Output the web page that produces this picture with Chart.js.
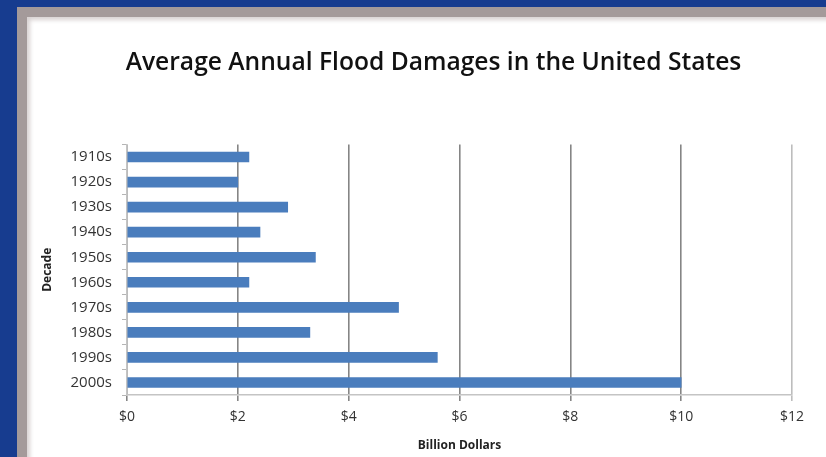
<!DOCTYPE html>
<html>
<head>
<meta charset="utf-8">
<script src="https://cdn.jsdelivr.net/npm/chart.js@4/dist/chart.umd.min.js"></script>
<style>
  html, body { margin: 0; padding: 0; }
  body { width: 826px; height: 457px; background: #173c8f; position: relative; overflow: hidden; }
  #panel { position: absolute; left: 17px; top: 7px; width: 830px; height: 446px;
           background: #ffffff; border-left: 10px solid #a49a9a; border-top: 10px solid #a49a9a;
           border-bottom: 2px solid #b9aeae;
           box-shadow: inset 3px 3px 4px #d8d2d2; }
  #wrap { position: absolute; left: 0; top: 0; width: 826px; height: 457px; }
</style>
</head>
<body>
<div id="panel"></div>
<div id="wrap"><canvas id="c" width="826" height="457"></canvas></div>
<script>
const chartTitle = "Average Annual Flood Damages in the United States";
const decades = ["1910s","1920s","1930s","1940s","1950s","1960s","1970s","1980s","1990s","2000s"];
const damages = [2.2, 2.0, 2.9, 2.4, 3.4, 2.2, 4.9, 3.3, 5.6, 10.0];
const xTickValues = [0, 2, 4, 6, 8, 10, 12];
const xAxisTitle = "Billion Dollars";
const yAxisTitle = "Decade";

const FONT = "'Open Sans', 'Liberation Sans', sans-serif";

const shiftTitle = {
  id: 'shiftTitle',
  afterLayout(chart) {
    if (chart.titleBlock) { chart.titleBlock.left += 35; }
  }
};

new Chart(document.getElementById('c'), {
  type: 'bar',
  data: {
    labels: decades,
    datasets: [{
      data: damages,
      backgroundColor: '#4a7dbd',
      borderWidth: 0,
      barThickness: 10
    }]
  },
  plugins: [shiftTitle],
  options: {
    indexAxis: 'y',
    responsive: false,
    animation: false,
    layout: { padding: { left: 40, right: 34, top: 0, bottom: 0 } },
    plugins: {
      legend: { display: false },
      tooltip: { enabled: false },
      title: {
        display: true,
        text: chartTitle,
        color: '#111111',
        font: { family: FONT, size: 24.6, weight: '600' },
        padding: { top: 48, bottom: 67 }
      }
    },
    scales: {
      x: {
        min: 0, max: 12,
        afterBuildTicks: (scale) => { scale.ticks = xTickValues.map(v => ({ value: v })); },
        afterFit: (scale) => { scale.height = 62; },
        ticks: {
          callback: (v) => '$' + v,
          color: '#333333',
          font: { family: FONT, size: 14 },
          padding: 8,
          maxRotation: 0
        },
        grid: {
          color: (ctx) => (ctx.index === xTickValues.length - 1 ? '#bdbdbd' : '#858585'),
          lineWidth: 1.6,
          tickLength: 6,
          drawTicks: true
        },
        border: { display: true, color: '#c4c4c4', width: 1.5 },
        title: {
          display: true,
          text: xAxisTitle,
          color: '#222222',
          font: { family: FONT, size: 12, weight: '700' },
          padding: { top: 0, bottom: 4 }
        }
      },
      y: {
        afterFit: (scale) => { scale.width = 87; },
        ticks: {
          color: '#333333',
          font: { family: FONT, size: 15 },
          padding: 10
        },
        grid: {
          offset: true,
          drawOnChartArea: false,
          drawTicks: true,
          tickLength: 5,
          color: '#b5b5b5'
        },
        border: { display: true, color: '#c4c4c4', width: 1.5 },
        title: {
          display: true,
          text: yAxisTitle,
          color: '#222222',
          font: { family: FONT, size: 12, weight: '700' },
          padding: { top: 0, bottom: 0 }
        }
      }
    }
  }
});
</script>
</body>
</html>
